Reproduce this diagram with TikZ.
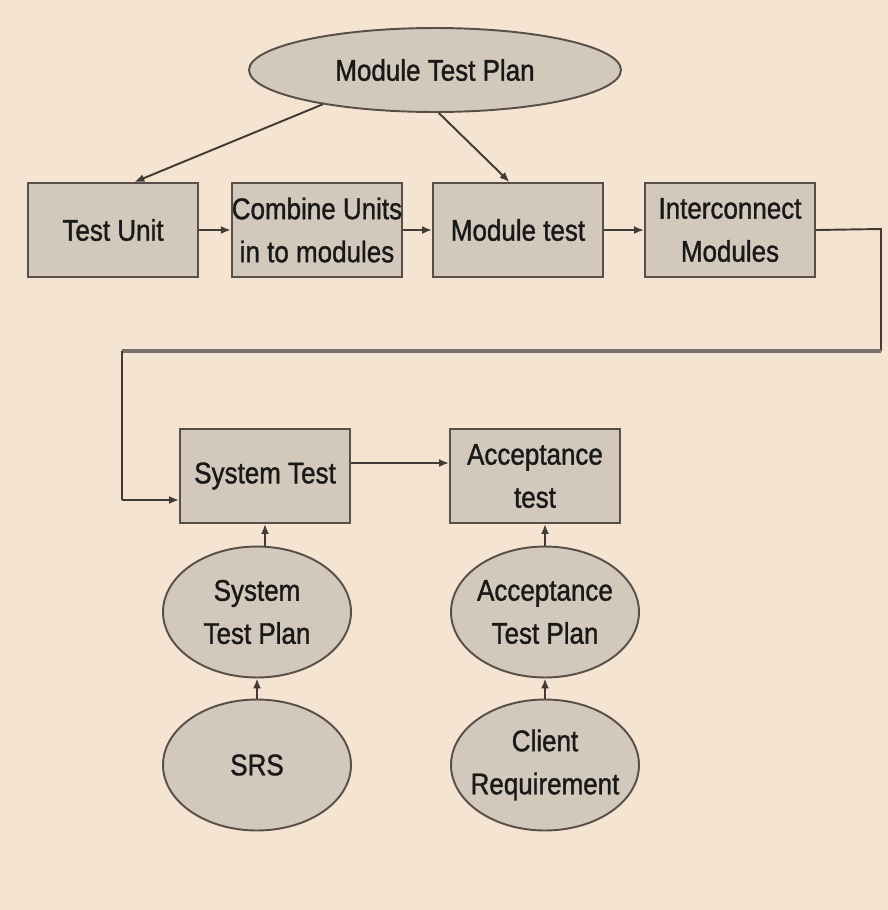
\documentclass[tikz,border=0pt]{standalone}
\usepackage{fontspec}
\setmainfont{Liberation Sans}[FakeStretch=0.87, FakeBold=1.2]
\usetikzlibrary{shapes.geometric}
\usetikzlibrary{arrows.meta}

\definecolor{paper}{RGB}{245,228,210}
\definecolor{boxfill}{RGB}{210,201,188}
\definecolor{edge}{RGB}{88,80,72}
\definecolor{wire}{RGB}{66,58,52}

\begin{document}
\begin{tikzpicture}[x=0.02cm, y=-0.02cm,
        every node/.style={font=\fontsize{17}{24.5}\selectfont, text=black!90, align=center},
        stage/.style={draw=edge, fill=boxfill, line width=1.1pt, minimum width=3.4cm, minimum height=1.88cm, inner sep=0pt},
        plan/.style={ellipse, draw=edge, fill=boxfill, line width=1.1pt, inner xsep=-0.2cm, inner ysep=0pt, minimum width=3.76cm, minimum height=2.62cm},
        flow/.style={draw=wire, line width=1.1pt, -{Latex[length=2mm,width=1.6mm]}}]

        \fill[paper] (0,0) rectangle (888,910);

        \coordinate (R1) at (881,229);
        \coordinate (R2) at (881,351);
        \coordinate (L1) at (122,351);
        \coordinate (L2) at (122,500);

        \node[plan, minimum width=7.44cm, minimum height=1.68cm] (mtp) at (435,70) {Module Test Plan};

        \node[stage] (tu) at (113,230) {Test Unit};
        \node[stage] (cu) at (317,230) {Combine Units\\in to modules};
        \node[stage] (mt) at (518,230) {Module test};
        \node[stage] (ic) at (730,230) {Interconnect\\Modules};

        \node[stage] (sys) at (265,476) {System Test};
        \node[stage] (acc) at (535,476) {Acceptance\\test};

        \node[plan] (stp) at (257,612) {System\\Test Plan};
        \node[plan] (srs) at (257,765) {SRS};
        \node[plan] (atp) at (545,612) {Acceptance\\Test Plan};
        \node[plan] (cr) at (545,765) {Client\\Requirement};

        \draw[flow] (mtp.197) -- (tu.66);
        \draw[flow] (mtp.-85) -- (mt.100);

        \draw[flow] (tu) -- (cu);
        \draw[flow] (cu) -- (mt);
        \draw[flow] (mt) -- (ic);

        \draw[draw=wire, line width=1.1pt] (ic.east) -- (R1) -- (R2);
        \draw[draw=edge!80, line width=2.4pt] (R2) -- (L1);
        \draw[draw=wire, line width=1.1pt] (L1) -- (L2);
        \draw[flow] (L2) -- (L2 -| sys.west);

        \draw[flow] ([yshift=0.26cm]sys.east) -- ([yshift=0.26cm]acc.west);

        \draw[flow] (stp.north -| sys.south) -- (sys.south);
        \draw[flow] (srs) -- (stp);
        \draw[flow] (atp.north) -- (atp |- acc.south);
        \draw[flow] (cr) -- (atp);

    \end{tikzpicture}
\end{document}
